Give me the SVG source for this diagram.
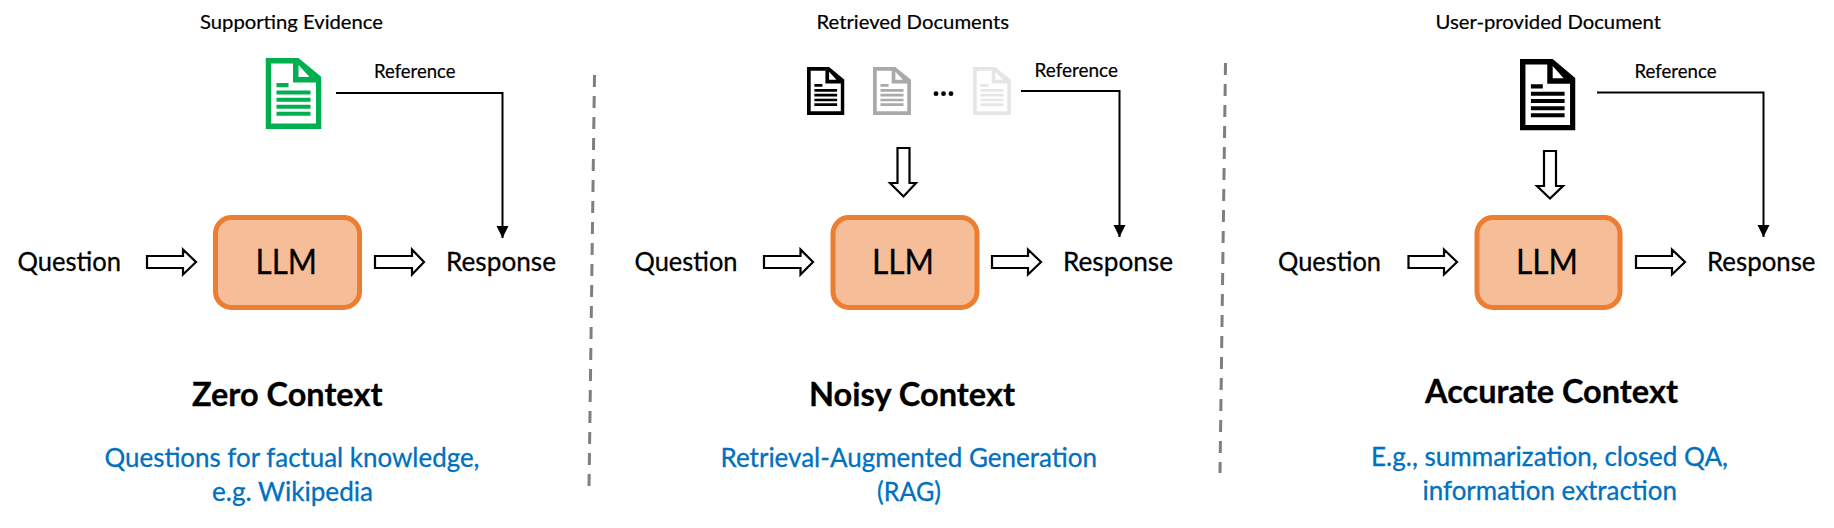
<svg xmlns="http://www.w3.org/2000/svg" xmlns:xlink="http://www.w3.org/1999/xlink" width="1834" height="528" viewBox="0 0 1834 528">
<style>
text{font-family:Lato,"Liberation Sans",sans-serif;fill:#000;stroke:#000;stroke-width:.3}
.sm{font-size:18.8px;stroke-width:.2}
.md{font-size:27.5px}
.llm{font-size:34px}
.ti{font-size:32.5px;font-weight:700}
.bl{font-size:27.5px;fill:#0070C0;stroke:#0070C0}
.box{fill:#F5BE98;stroke:#ED7D31;stroke-width:5}
.blk{fill:#fff;stroke:#000;stroke-width:2.2;stroke-linejoin:miter}
.ref{fill:none;stroke:#000;stroke-width:2;marker-end:url(#tip)}
.sep{fill:none;stroke:#7f7f7f;stroke-width:3;stroke-dasharray:12 9}
</style>
<defs>
<marker id="tip" markerUnits="userSpaceOnUse" markerWidth="12" markerHeight="13" refX="12" refY="6" orient="auto"><path d="M0 0L12 6L0 12Z" fill="#000"/></marker>
<symbol id="doc" viewBox="0 0 56 71" preserveAspectRatio="none">
<path fill="currentColor" fill-rule="evenodd" d="M0 0H33L56 19V71H0ZM5.500 5.500V65.500H50.500V24.500H27.500V5.500ZM33 7V19H44Z"/>
<path fill="currentColor" d="M11 25h12v4.300H11ZM11 32.500h34v4H11ZM11 39.700h34v4H11ZM11 46.800h34v4H11ZM11 53.800h34v4H11Z"/>
</symbol>
</defs>
<g id="separators">
<path class="sep" d="M594.500 75L589 488"/>
<path class="sep" d="M1225.500 63L1220 473"/>
</g>
<g id="connectors">
<path class="ref" d="M336 93H502.500V238"/>
<path class="ref" d="M1021 91H1119.500V237"/>
<path class="ref" d="M1597 92.500H1763.500V237"/>
<polygon class="blk" points="147,256 183,256 183,249.500 196,262 183,274.500 183,268 147,268"/>
<polygon class="blk" points="375,256 412,256 412,249.500 424,262 412,274.500 412,268 375,268"/>
<polygon class="blk" points="764,256 800.500,256 800.500,249.500 813,262 800.500,274.500 800.500,268 764,268"/>
<polygon class="blk" points="992,256 1028,256 1028,249.500 1041,262 1028,274.500 1028,268 992,268"/>
<polygon class="blk" points="1408.500,256 1444,256 1444,249.500 1457,262 1444,274.500 1444,268 1408.500,268"/>
<polygon class="blk" points="1636,256 1672,256 1672,249.500 1685,262 1672,274.500 1672,268 1636,268"/>
<polygon class="blk" points="897.500,148 909.500,148 909.500,183 916,183 903.500,196.500 890,183 897.500,183"/>
<polygon class="blk" points="1544,151 1556,151 1556,186 1563,186 1550,198.500 1537,186 1544,186"/>
</g>
<g id="panel-zero">
<g id="z-title"><text class="sm" x="200" y="29" textLength="183" lengthAdjust="spacingAndGlyphs">Supporting Evidence</text></g>
<g id="z-doc" style="color:#00B050"><use xlink:href="#doc" href="#doc" x="265.500" y="58" width="56" height="71"/></g>
<g id="z-ref"><text class="sm" x="374" y="77.500" textLength="81.500" lengthAdjust="spacingAndGlyphs">Reference</text></g>
<g id="z-question"><text class="md" x="17.500" y="271" textLength="103.500" lengthAdjust="spacingAndGlyphs">Question</text></g>
<g id="z-llm"><rect class="box" x="215.500" y="217.500" width="144" height="90" rx="16"/><text class="llm" x="255.500" y="274" textLength="61.500" lengthAdjust="spacingAndGlyphs">LLM</text></g>
<g id="z-response"><text class="md" x="446" y="271" textLength="110" lengthAdjust="spacingAndGlyphs">Response</text></g>
<g id="z-name"><text class="ti" x="192" y="405.500" textLength="190.500" lengthAdjust="spacingAndGlyphs">Zero Context</text></g>
<g id="z-desc"><text class="bl" x="104.500" y="467" textLength="375" lengthAdjust="spacingAndGlyphs">Questions for factual knowledge,</text><text class="bl" x="212" y="501" textLength="161" lengthAdjust="spacingAndGlyphs">e.g. Wikipedia</text></g>
</g>
<g id="panel-noisy">
<g id="n-title"><text class="sm" x="816.500" y="29" textLength="192.500" lengthAdjust="spacingAndGlyphs">Retrieved Documents</text></g>
<g id="n-doc1" style="color:#000"><use xlink:href="#doc" href="#doc" x="807" y="67" width="37.500" height="48"/></g>
<g id="n-doc2" style="color:#ABA9A9"><use xlink:href="#doc" href="#doc" x="873" y="67" width="38" height="48"/></g>
<g id="n-dots"><circle cx="936" cy="93.700" r="2.400"/><circle cx="943.500" cy="93.700" r="2.400"/><circle cx="951" cy="93.700" r="2.400"/></g>
<g id="n-doc3" style="color:#E6E6E6"><use xlink:href="#doc" href="#doc" x="973" y="67" width="38" height="48"/></g>
<g id="n-ref"><text class="sm" x="1034.500" y="76.500" textLength="83.500" lengthAdjust="spacingAndGlyphs">Reference</text></g>
<g id="n-question"><text class="md" x="634.500" y="271" textLength="103" lengthAdjust="spacingAndGlyphs">Question</text></g>
<g id="n-llm"><rect class="box" x="833" y="217.500" width="144" height="90" rx="16"/><text class="llm" x="872" y="274" textLength="62" lengthAdjust="spacingAndGlyphs">LLM</text></g>
<g id="n-response"><text class="md" x="1063" y="271" textLength="110" lengthAdjust="spacingAndGlyphs">Response</text></g>
<g id="n-name"><text class="ti" x="809" y="405.500" textLength="206" lengthAdjust="spacingAndGlyphs">Noisy Context</text></g>
<g id="n-desc"><text class="bl" x="720.500" y="467" textLength="376.500" lengthAdjust="spacingAndGlyphs">Retrieval-Augmented Generation</text><text class="bl" x="877" y="501" textLength="64" lengthAdjust="spacingAndGlyphs">(RAG)</text></g>
</g>
<g id="panel-accurate">
<g id="a-title"><text class="sm" x="1435.500" y="29" textLength="225.500" lengthAdjust="spacingAndGlyphs">User-provided Document</text></g>
<g id="a-doc" style="color:#000"><use xlink:href="#doc" href="#doc" x="1520" y="59" width="55.500" height="71.500"/></g>
<g id="a-ref"><text class="sm" x="1634.500" y="77.500" textLength="82" lengthAdjust="spacingAndGlyphs">Reference</text></g>
<g id="a-question"><text class="md" x="1278" y="271" textLength="103" lengthAdjust="spacingAndGlyphs">Question</text></g>
<g id="a-llm"><rect class="box" x="1477" y="217.500" width="143" height="90" rx="16"/><text class="llm" x="1516" y="274" textLength="62" lengthAdjust="spacingAndGlyphs">LLM</text></g>
<g id="a-response"><text class="md" x="1707" y="271" textLength="108.500" lengthAdjust="spacingAndGlyphs">Response</text></g>
<g id="a-name"><text class="ti" x="1425" y="402.500" textLength="253" lengthAdjust="spacingAndGlyphs">Accurate Context</text></g>
<g id="a-desc"><text class="bl" x="1371" y="466" textLength="357" lengthAdjust="spacingAndGlyphs">E.g., summarization, closed QA,</text><text class="bl" x="1422.500" y="500" textLength="254.500" lengthAdjust="spacingAndGlyphs">information extraction</text></g>
</g>
</svg>
